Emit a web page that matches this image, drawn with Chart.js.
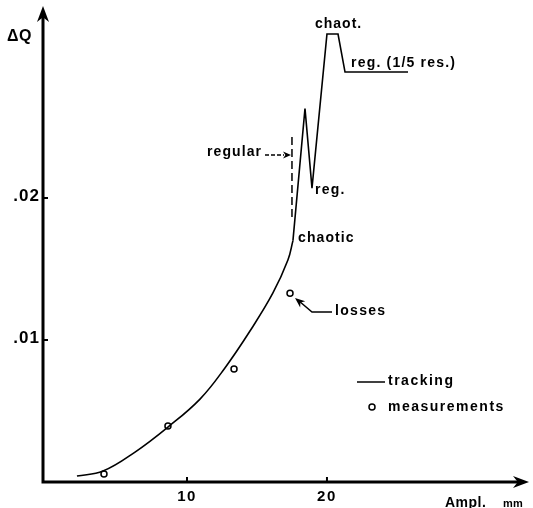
<!DOCTYPE html>
<html>
<head>
<meta charset="utf-8">
<script src="https://cdn.jsdelivr.net/npm/chart.js@4/dist/chart.umd.min.js"></script>
<style>
    html, body { margin: 0; padding: 0; background: #fff; }
    #wrap { width: 533px; height: 508px; }
</style>
</head>
<body>
<div id="wrap"><canvas id="chart" width="533" height="508"></canvas></div>
<script>
// smooth tracking curve, up to the chaotic point
const trackX = [2.14, 4.0, 6.29, 8.64, 10.93, 12.71, 14.5, 16.14, 17.21, 17.57];
const trackY = [0.00042, 0.00077, 0.00211, 0.00387, 0.00584, 0.00803, 0.01063, 0.01331, 0.01563, 0.0170];

// zig-zag part above the chaotic point
const spikeX = [17.57, 18.43, 18.93, 20.0, 20.79, 21.29, 25.79];
const spikeY = [0.0170, 0.0263, 0.0207, 0.03155, 0.03155, 0.02887, 0.02887];

// measured losses
const measX = [4.07, 8.64, 13.36, 17.36];
const measY = [0.00056, 0.00394, 0.00796, 0.0133];

// dashed "regular" marker
const dashX = [17.5, 17.5];
const dashY = [0.01866, 0.02458];

const xTicks      = [10, 20];
const xTickLabels = ['10', '20'];
const yTicks      = [0.01, 0.02];
const yTickLabels = ['.01', '.02'];

const INK  = '#000';
const FONT = '"Liberation Sans", Arial, sans-serif';

const toPts = (xs, ys) => xs.map((x, i) => ({ x, y: ys[i] }));

function arrowHead(ctx, x, y, angle, len, half) {
    ctx.save();
    ctx.translate(x, y);
    ctx.rotate(angle);
    ctx.beginPath();
    ctx.moveTo(0, 0);
    ctx.lineTo(-len, -half);
    ctx.lineTo(-len * 0.7, 0);
    ctx.lineTo(-len, half);
    ctx.closePath();
    ctx.fill();
    ctx.restore();
}

function text(ctx, str, x, y, size, spacing, align, baseline) {
    ctx.font = `bold ${size}px ${FONT}`;
    ctx.letterSpacing = `${spacing}px`;
    ctx.textAlign = align || 'left';
    ctx.textBaseline = baseline || 'middle';
    ctx.fillText(str, x, y);
}

const decorPlugin = {
    id: 'decor',
    afterDatasetsDraw(chart) {
        const { ctx, scales: { x, y } } = chart;
        const x0 = 43, yAxis = y.getPixelForValue(0);
        ctx.save();
        ctx.fillStyle = INK;
        ctx.strokeStyle = INK;

        // axes
        ctx.lineWidth = 3;
        ctx.beginPath();
        ctx.moveTo(x0, 16);
        ctx.lineTo(x0, yAxis);
        ctx.lineTo(518, yAxis);
        ctx.stroke();
        arrowHead(ctx, x0, 6, -Math.PI / 2, 16, 6);
        arrowHead(ctx, 529, yAxis, 0, 16, 6);

        // ticks
        ctx.lineWidth = 2;
        xTicks.forEach((v, i) => {
            const px = x.getPixelForValue(v);
            ctx.beginPath();
            ctx.moveTo(px, yAxis);
            ctx.lineTo(px, yAxis - 5);
            ctx.stroke();
            text(ctx, xTickLabels[i], px, 497, 15, 1.5, 'center');
        });
        yTicks.forEach((v, i) => {
            const py = y.getPixelForValue(v);
            ctx.beginPath();
            ctx.moveTo(x0, py);
            ctx.lineTo(x0 + 5, py);
            ctx.stroke();
            text(ctx, yTickLabels[i], 40, py - 2, 17, 1, 'right');
        });

        // axis titles
        text(ctx, 'ΔQ', 7, 37, 16, 0.5);
        text(ctx, 'Ampl.', 445, 507, 14, 0.5, 'left', 'alphabetic');
        text(ctx, 'mm', 503, 507, 11, 0.3, 'left', 'alphabetic');

        // annotations
        text(ctx, 'chaot.', 315, 24, 14, 1.0);
        text(ctx, 'reg. (1/5 res.)', 351, 63, 14, 1.2);
        text(ctx, 'regular', 207, 152, 14, 1.1);
        text(ctx, 'reg.', 315, 190, 14, 1.2);
        text(ctx, 'chaotic', 298, 238, 14, 1.1);
        text(ctx, 'losses', 335, 311, 14, 1.3);

        // "regular" arrow (dashed)
        ctx.lineWidth = 1.5;
        ctx.setLineDash([4, 2]);
        ctx.beginPath();
        ctx.moveTo(265, 155);
        ctx.lineTo(284, 155);
        ctx.stroke();
        ctx.setLineDash([]);
        arrowHead(ctx, 291, 155, 0, 8, 3.5);

        // "losses" arrow
        ctx.beginPath();
        ctx.moveTo(332, 312);
        ctx.lineTo(312, 312);
        ctx.lineTo(299, 301);
        ctx.stroke();
        arrowHead(ctx, 295, 298, Math.atan2(-14, -17), 10, 4);

        // legend
        ctx.lineWidth = 1.5;
        ctx.beginPath();
        ctx.moveTo(357, 382);
        ctx.lineTo(385, 382);
        ctx.stroke();
        text(ctx, 'tracking', 388, 381, 14, 1.5);
        ctx.beginPath();
        ctx.arc(372, 407, 3, 0, Math.PI * 2);
        ctx.stroke();
        text(ctx, 'measurements', 388, 407, 14, 1.5);

        ctx.restore();
    }
};

new Chart(document.getElementById('chart').getContext('2d'), {
    type: 'scatter',
    data: {
        datasets: [
            {
                label: 'tracking',
                data: toPts(trackX, trackY),
                showLine: true,
                tension: 0.4,
                borderColor: INK,
                borderWidth: 1.6,
                pointRadius: 0
            },
            {
                label: 'tracking (resonances)',
                data: toPts(spikeX, spikeY),
                showLine: true,
                tension: 0,
                borderColor: INK,
                borderWidth: 1.6,
                pointRadius: 0
            },
            {
                label: 'regular',
                data: toPts(dashX, dashY),
                showLine: true,
                borderColor: INK,
                borderWidth: 1.5,
                borderDash: [8, 4],
                pointRadius: 0
            },
            {
                label: 'measurements',
                data: toPts(measX, measY),
                showLine: false,
                pointStyle: 'circle',
                pointRadius: 3,
                pointBorderWidth: 1.5,
                pointBorderColor: INK,
                pointBackgroundColor: '#fff'
            }
        ]
    },
    options: {
        responsive: false,
        animation: false,
        events: [],
        layout: { padding: { left: 43, right: 6, top: 8, bottom: 26 } },
        scales: {
            x: { type: 'linear', display: false, min: -0.286, max: 34.29 },
            y: { type: 'linear', display: false, min: 0, max: 0.03338 }
        },
        plugins: {
            legend: { display: false },
            tooltip: { enabled: false }
        }
    },
    plugins: [decorPlugin]
});
</script>
</body>
</html>
